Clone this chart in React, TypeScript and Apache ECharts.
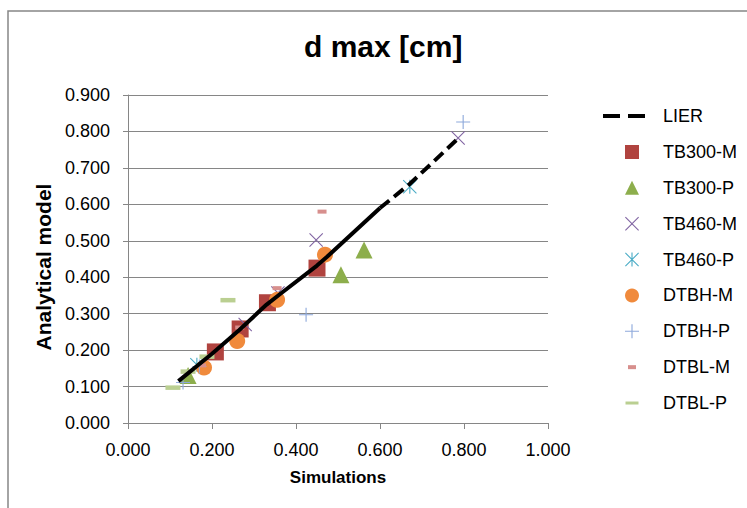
import React, { useEffect, useRef } from "react";
import * as echarts from "echarts";

// ---- data ----
const seriesNames = ["LIER", "TB300-M", "TB300-P", "TB460-M", "TB460-P", "DTBH-M", "DTBH-P", "DTBL-M", "DTBL-P"];
const lierSolid = [[0.12, 0.115], [0.2, 0.19], [0.265, 0.255], [0.33, 0.325], [0.36, 0.352], [0.45, 0.432], [0.474, 0.456], [0.6, 0.59]];
const lierDashed = [[0.6, 0.59], [0.67, 0.655], [0.79, 0.785]];
const tb300M = [[0.208, 0.195], [0.267, 0.258], [0.332, 0.33], [0.45, 0.425]];
const tb300P = [[0.143, 0.13], [0.507, 0.407], [0.562, 0.475]];
const tb460M = [[0.279, 0.27], [0.357, 0.357], [0.448, 0.502], [0.786, 0.782]];
const tb460P = [[0.164, 0.16], [0.671, 0.648]];
const dtbhM = [[0.181, 0.152], [0.26, 0.225], [0.355, 0.338], [0.469, 0.462]];
const dtbhP = [[0.131, 0.111], [0.17, 0.155], [0.424, 0.297], [0.798, 0.826]];
const dtblM = [[0.175, 0.158], [0.266, 0.262], [0.355, 0.37], [0.462, 0.58]];
const dtblP = [[0.107, 0.097], [0.143, 0.141], [0.188, 0.182], [0.238, 0.337]];
const xRange = { min: 0, max: 1, step: 0.2 };
const yRange = { min: 0, max: 0.9, step: 0.1 };
const titleText = "d max [cm]";
const xName = "Simulations";
const yName = "Analytical model";

const FONT = "Liberation Sans";
const GRAY = "#868686";

const X_PATH = "path://M0,1.1L1.1,0L20,18.9L18.9,20Z M18.9,0L20,1.1L1.1,20L0,18.9Z";
const STAR_PATH = "path://M9.2,0L10.8,0L10.8,20L9.2,20Z M0,1.1L1.1,0L20,18.9L18.9,20Z M18.9,0L20,1.1L1.1,20L0,18.9Z";
const PLUS_PATH = "path://M9.2,0H10.8V9.2H20V10.8H10.8V20H9.2V10.8H0V9.2H9.2Z";
const DASH_M_ICON = "path://M0,0M14,14M3,5H11V9H3Z";
const DASH_P_ICON = "path://M0,0M14,14M0.5,5.5H13.5V8.5H0.5Z";
const LIER_ICON = "path://M0,0M42,14M0,5H17V9H0Z M25,5H42V9H25Z";

const colors = {
  tb300M: "#B0433F",
  tb300P: "#8DAE4C",
  tb460M: "#8064A2",
  tb460P: "#4BACC6",
  dtbhM: "#F08A3C",
  dtbhP: "#8EA9DB",
  dtblM: "#D78F8D",
  dtblP: "#BACF91",
};

export default function App() {
  const ref = useRef<HTMLDivElement>(null);

  useEffect(() => {
    document.body.style.margin = "0";
    if (!ref.current) return;
    const chart = echarts.init(ref.current, null, { renderer: "svg" });

    const scatter = (name: string, data: number[][], symbol: string, size: any, color: string) => ({
      name,
      type: "scatter",
      data,
      symbol,
      symbolSize: size,
      itemStyle: { color, opacity: 1 },
      emphasis: { disabled: true },
    });

    const fmt = (v: number) => v.toFixed(3);

    chart.setOption({
      animation: false,
      textStyle: { fontFamily: FONT },
      title: {
        text: titleText,
        left: 304,
        top: 31,
        padding: 0,
        textStyle: { fontFamily: FONT, fontSize: 30, fontWeight: "bold", color: "#000" },
      },
      graphic: [
        {
          type: "rect",
          silent: true,
          shape: { x: 8, y: 11, width: 760, height: 520 },
          style: { fill: "none", stroke: GRAY, lineWidth: 1.5 },
        },
      ],
      grid: { left: 128, right: 199, top: 95, bottom: 85, containLabel: false },
      xAxis: {
        type: "value",
        min: xRange.min,
        max: xRange.max,
        interval: xRange.step,
        name: xName,
        nameLocation: "middle",
        nameGap: 46,
        nameTextStyle: { fontFamily: FONT, fontSize: 17, fontWeight: "bold", color: "#000" },
        axisLine: { show: true, lineStyle: { color: GRAY, width: 1 } },
        axisTick: { show: true, inside: false, length: 6, lineStyle: { color: GRAY } },
        axisLabel: { fontFamily: FONT, fontSize: 18, color: "#000", margin: 18, formatter: fmt },
        splitLine: { show: false },
      },
      yAxis: {
        type: "value",
        min: yRange.min,
        max: yRange.max,
        interval: yRange.step,
        name: yName,
        nameLocation: "middle",
        nameGap: 68,
        nameTextStyle: { fontFamily: FONT, fontSize: 21, fontWeight: "bold", color: "#000", padding: [0, 16, 0, 0] },
        axisLine: { show: true, lineStyle: { color: GRAY, width: 1 } },
        axisTick: { show: true, inside: false, length: 5, lineStyle: { color: GRAY } },
        axisLabel: { fontFamily: FONT, fontSize: 18, color: "#000", margin: 18, formatter: fmt },
        splitLine: { show: true, lineStyle: { color: GRAY, width: 1 } },
      },
      legend: [
        {
          orient: "vertical",
          left: 603,
          top: 106,
          padding: 0,
          itemWidth: 42,
          itemHeight: 14,
          selectedMode: false,
          data: [
            { name: seriesNames[0], icon: LIER_ICON, itemStyle: { color: "#000" } },
          ],
          textStyle: { fontFamily: FONT, fontSize: 18, lineHeight: 20, color: "#000", padding: [0, 0, 0, 13] },
        },
        {
          orient: "vertical",
          left: 625,
          top: 142,
          padding: 0,
          itemWidth: 14,
          itemHeight: 14,
          itemGap: 15.86,
          selectedMode: false,
          data: [
            { name: seriesNames[1], icon: "rect" },
            { name: seriesNames[2], icon: "triangle" },
            { name: seriesNames[3], icon: X_PATH },
            { name: seriesNames[4], icon: STAR_PATH },
            { name: seriesNames[5], icon: "circle" },
            { name: seriesNames[6], icon: PLUS_PATH },
            { name: seriesNames[7], icon: DASH_M_ICON },
            { name: seriesNames[8], icon: DASH_P_ICON },
          ],
          textStyle: { fontFamily: FONT, fontSize: 18, lineHeight: 20, color: "#000", padding: [0, 0, 0, 19] },
        },
      ],
      series: [
        {
          name: seriesNames[0],
          type: "line",
          data: lierSolid,
          symbol: "none",
          lineStyle: { color: "#000", width: 4, type: "solid" },
          itemStyle: { color: "#000" },
          emphasis: { disabled: true },
        },
        {
          name: seriesNames[0],
          type: "line",
          data: lierDashed,
          symbol: "none",
          lineStyle: { color: "#000", width: 4, type: [12, 6] },
          itemStyle: { color: "#000" },
          emphasis: { disabled: true },
        },
        scatter(seriesNames[1], tb300M, "rect", 17, colors.tb300M),
        scatter(seriesNames[2], tb300P, "triangle", 17, colors.tb300P),
        scatter(seriesNames[3], tb460M, X_PATH, 14, colors.tb460M),
        scatter(seriesNames[4], tb460P, STAR_PATH, 14, colors.tb460P),
        scatter(seriesNames[5], dtbhM, "circle", 16, colors.dtbhM),
        scatter(seriesNames[6], dtbhP, PLUS_PATH, 14, colors.dtbhP),
        scatter(seriesNames[7], dtblM, "rect", [9, 4], colors.dtblM),
        scatter(seriesNames[8], dtblP, "rect", [15, 4.5], colors.dtblP),
      ],
    });

    return () => {
      chart.dispose();
    };
  }, []);

  return <div ref={ref} style={{ width: 747, height: 508 }} />;
}
